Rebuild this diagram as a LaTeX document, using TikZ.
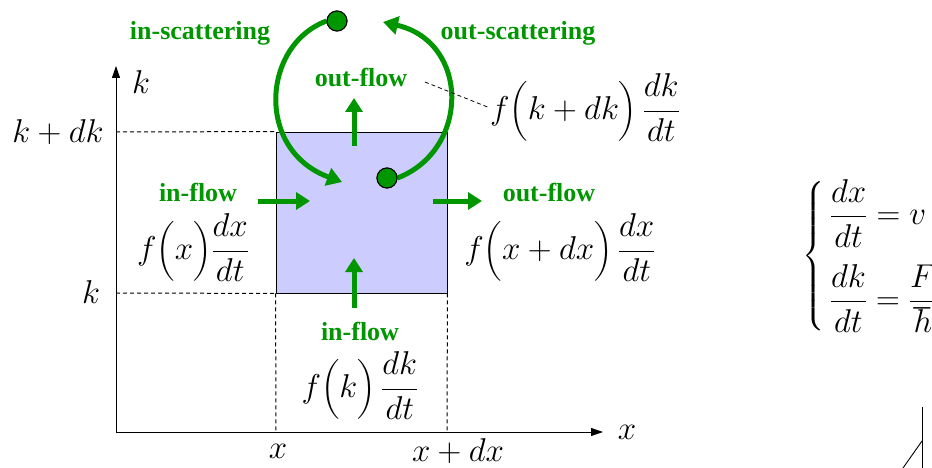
\RequirePackage{fix-cm}
\documentclass[tikz,border=0pt]{standalone}
\usepackage{amsmath}
\usepackage{fontspec}
\setmainfont{Liberation Serif}
\usetikzlibrary{arrows.meta}
\definecolor{grn}{RGB}{0,150,0}
\definecolor{boxblue}{RGB}{204,204,255}
\begin{document}
\begin{tikzpicture}[x=1pt,y=-1pt,
  lbl/.style={text=grn,font=\fontsize{26}{30}\selectfont\bfseries,inner sep=0pt},
  mth/.style={font=\fontsize{33}{38}\selectfont,inner sep=0pt},
  flow/.style={draw=grn,line width=5pt,-{Triangle[width=17pt,length=14pt]}},
  scat/.style={draw=grn,line width=5pt,-{Triangle[width=18pt,length=15pt]}},
  dot/.style={circle,fill=grn,draw=black,line width=1pt,minimum size=20pt,inner sep=0pt},
  axis/.style={line width=0.9pt,-{Triangle[width=8pt,length=12pt]}},
  dsh/.style={dashed,line width=1pt,dash pattern=on 4pt off 3pt}]
\useasboundingbox (0,0) rectangle (932,468);
% box
\node[draw=black,fill=boxblue,line width=0.9pt,minimum width=171pt,minimum height=161pt,inner sep=0pt] (box) at (361.5,212.5) {};
% axes
\coordinate (O) at (116,432);
\coordinate (ytop) at (116,66);
\coordinate (xend) at (603,432);
\draw[axis] (O) -- (ytop);
\draw[axis] (O) -- (xend);
% dashed guides
\coordinate (yk1) at (116,132);
\coordinate (yk0) at (116,293);
\coordinate (xx0) at (276,432);
\coordinate (xx1) at (447,432);
\draw[dsh] (yk1) -- (box.north west);
\draw[dsh] (yk0) -- (box.south west);
\draw[dsh] (box.south west) -- (xx0);
\draw[dsh] (box.south east) -- (xx1);
% axis labels
\node[mth] (kax) at (141,82) {$k$};
\node[mth] (kdk) at (58,132) {$k+dk$};
\node[mth] (kk) at (91,292) {$k$};
\node[mth] (xl) at (278,451) {$x$};
\node[mth] (xdx) at (458,451) {$x+dx$};
\node[mth] (xax) at (627,432) {$x$};
% flow arrows
\coordinate (a1s) at (258,201); \coordinate (a1e) at (310,201);
\coordinate (a2s) at (433,201); \coordinate (a2e) at (482,201);
\coordinate (a3s) at (354,308); \coordinate (a3e) at (354,258);
\coordinate (a4s) at (354,146); \coordinate (a4e) at (354,98);
\draw[flow] (a1s) -- (a1e);
\draw[flow] (a2s) -- (a2e);
\draw[flow] (a3s) -- (a3e);
\draw[flow] (a4s) -- (a4e);
% flow labels
\node[lbl] (inL) at (198,192) {in-flow};
\node[lbl] (outR) at (549,193) {out-flow};
\node[lbl] (inB) at (360,331) {in-flow};
\node[lbl] (outT) at (361,78) {out-flow};
\node[lbl] (insc) at (200,33) {in-scattering};
\node[lbl] (outsc) at (518,33) {out-scattering};
% scattering
\node[dot] (d1) at (337,21) {};
\node[dot] (d2) at (387,178) {};
\coordinate (sc1e) at (342,182);
\coordinate (sc2e) at (383,22);
\draw[scat] (d1.west) .. controls (262,45) and (255,150) .. (sc1e);
\draw[scat] (d2.east) .. controls (470,150) and (470,42) .. (sc2e);
\node[dot] at (d1) {};
\node[dot] at (d2) {};
% formulas
\node[mth] (fkdk) at (585,108) {$f\Bigl(k+dk\Bigr)\,\dfrac{dk}{dt}$};
\coordinate (ldr) at (425,82);
\draw[dsh,line width=0.8pt] (ldr) -- (fkdk.west);
\node[mth] (fx) at (193,248) {$f\Bigl(x\Bigr)\dfrac{dx}{dt}$};
\node[mth] (fxdx) at (560,248) {$f\Bigl(x+dx\Bigr)\,\dfrac{dx}{dt}$};
\node[mth] (fk) at (360,386) {$f\Bigl(k\Bigr)\,\dfrac{dk}{dt}$};
\node[mth,anchor=west] (sys) at (802,256) {$\left\{\,\begin{array}{@{}l}\dfrac{dx}{dt}=v\\[28pt]\dfrac{dk}{dt}=\dfrac{F}{\hbar}\end{array}\right.$};
% corner lines
\coordinate (c1) at (922,407); \coordinate (c2) at (922,468);
\coordinate (c3) at (922,441); \coordinate (c4) at (903,468);
\draw[line width=0.9pt] (c1) -- (c2);
\draw[line width=0.9pt] (c3) -- (c4);
\end{tikzpicture}
\end{document}
